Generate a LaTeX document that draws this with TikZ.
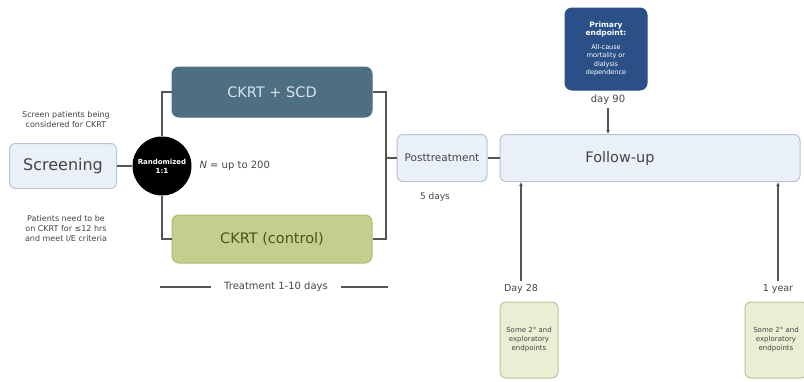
\documentclass[tikz,border=0pt]{standalone}
\usepackage{fontspec}
\setmainfont{DejaVu Sans}
\usetikzlibrary{arrows.meta}
\definecolor{lightbox}{HTML}{EAF0F7}
\definecolor{lightborder}{HTML}{B8C4D0}
\definecolor{scdfill}{HTML}{4E6E82}
\definecolor{scdtext}{HTML}{D8E4EC}
\definecolor{ctrlfill}{HTML}{C3CF8C}
\definecolor{ctrlborder}{HTML}{AEBB78}
\definecolor{ctrltext}{HTML}{4A5520}
\definecolor{primfill}{HTML}{2B5088}
\definecolor{endfill}{HTML}{ECEED4}
\definecolor{endborder}{HTML}{BFC3A0}
\definecolor{linegray}{HTML}{555555}
\definecolor{txtgray}{HTML}{444444}
\tikzset{
  phase/.style={draw=lightborder, fill=lightbox, rounded corners=6pt, line width=1pt, text=txtgray, align=center, inner sep=0pt},
  armbox/.style={rounded corners=7pt, line width=1pt, align=center, inner sep=0pt},
  endbox/.style={draw=endborder, fill=endfill, rounded corners=6pt, line width=1pt, text=txtgray, align=center, inner sep=0pt, font=\fontsize{7}{9}\selectfont, minimum width=58pt, minimum height=76pt},
  conn/.style={draw=linegray, line width=1.4pt},
  arr/.style={conn, -{Latex[length=4pt,width=4pt]}},
  small/.style={text=txtgray, align=center, font=\fontsize{8}{10}\selectfont},
}
\begin{document}
\begin{tikzpicture}[x=1pt,y=-1pt]
\useasboundingbox (0,0) rectangle (804,381);
% screening
\node[phase, minimum width=107pt, minimum height=45pt, font=\fontsize{16}{18}\selectfont] (scr) at (63,166) {Screening};
\node[small] (scrtop) at (66,120) {Screen patients being\\considered for CKRT};
\node[small] (scrbot) at (66,229) {Patients need to be\\on CKRT for ≤12 hrs\\and meet I/E criteria};
% randomization
\node[circle, fill=black, minimum size=59pt, inner sep=0pt, text=white, align=center, font=\bfseries\fontsize{7}{9}\selectfont] (rand) at (162,166) {Randomized\\1:1};
\node[text=txtgray, font=\fontsize{10}{12}\selectfont, anchor=west] (nlab) at (196,166) {\textit{N} = up to 200};
% arms
\node[armbox, fill=scdfill, draw=scdfill, text=scdtext, minimum width=200pt, minimum height=50pt, font=\fontsize{14.5}{17}\selectfont] (scd) at (272,92) {CKRT + SCD};
\node[armbox, fill=ctrlfill, draw=ctrlborder, text=ctrltext, minimum width=200pt, minimum height=48pt, font=\fontsize{14.5}{17}\selectfont] (ctrl) at (272,239) {CKRT (control)};
\node[text=txtgray, font=\fontsize{10}{12}\selectfont] (treat) at (276,287) {Treatment 1-10 days};
\coordinate (tl1) at (160,287);
\coordinate (tr2) at (388,287);
\draw[conn] (tl1) -- ([xshift=-10pt]treat.west);
\draw[conn] ([xshift=10pt]treat.east) -- (tr2);
% post-treatment
\node[phase, minimum width=90pt, minimum height=47pt, font=\fontsize{10.5}{12}\selectfont] (post) at (442,158) {Posttreatment};
\node[small, font=\fontsize{9}{11}\selectfont] (fivedays) at (435,197) {5 days};
\coordinate (jr) at (386,158);
% follow-up
\node[phase, minimum width=300pt, minimum height=47pt] (fu) at (650,158) {};
\node[text=txtgray, font=\fontsize{14.5}{17}\selectfont] (fulab) at (620,158) {Follow-up};
% primary endpoint
\node[armbox, fill=primfill, draw=primfill, text=white, minimum width=82pt, minimum height=82pt, font=\fontsize{6.5}{8.5}\selectfont] (prim) at (606,49) {\textbf{\fontsize{7.5}{9}\selectfont Primary}\\\textbf{\fontsize{7.5}{9}\selectfont endpoint:}\\[5pt]All-cause\\mortality or\\dialysis\\dependence};
\node[small, font=\fontsize{10}{12}\selectfont] (d90) at (608,100) {day 90};
% day 28 and 1 year
\node[small, font=\fontsize{9.5}{11}\selectfont] (d28) at (521,289) {Day 28};
\node[endbox] (e28) at (529,340) {Some 2° and\\exploratory\\endpoints};
\node[small, font=\fontsize{9.5}{11}\selectfont] (y1) at (778,289) {1 year};
\node[endbox, minimum width=62pt] (e1y) at (776,340) {Some 2° and\\exploratory\\endpoints};
% connectors
\draw[conn] (scr.east) -- (rand.west);
\draw[conn] (rand.north) |- (scd.west);
\draw[conn] (rand.south) |- (ctrl.west);
\draw[conn] (scd.east) -| (jr);
\draw[conn] (ctrl.east) -| (jr);
\draw[conn] (jr) -- (post.west);
\draw[conn] (post.east) -- (fu.west);
\draw[arr] (d90.south) -- (d90.south |- fu.north);
\draw[arr] (d28.north) -- (d28.north |- fu.south);
\draw[arr] (y1.north) -- (y1.north |- fu.south);
\end{tikzpicture}
\end{document}
